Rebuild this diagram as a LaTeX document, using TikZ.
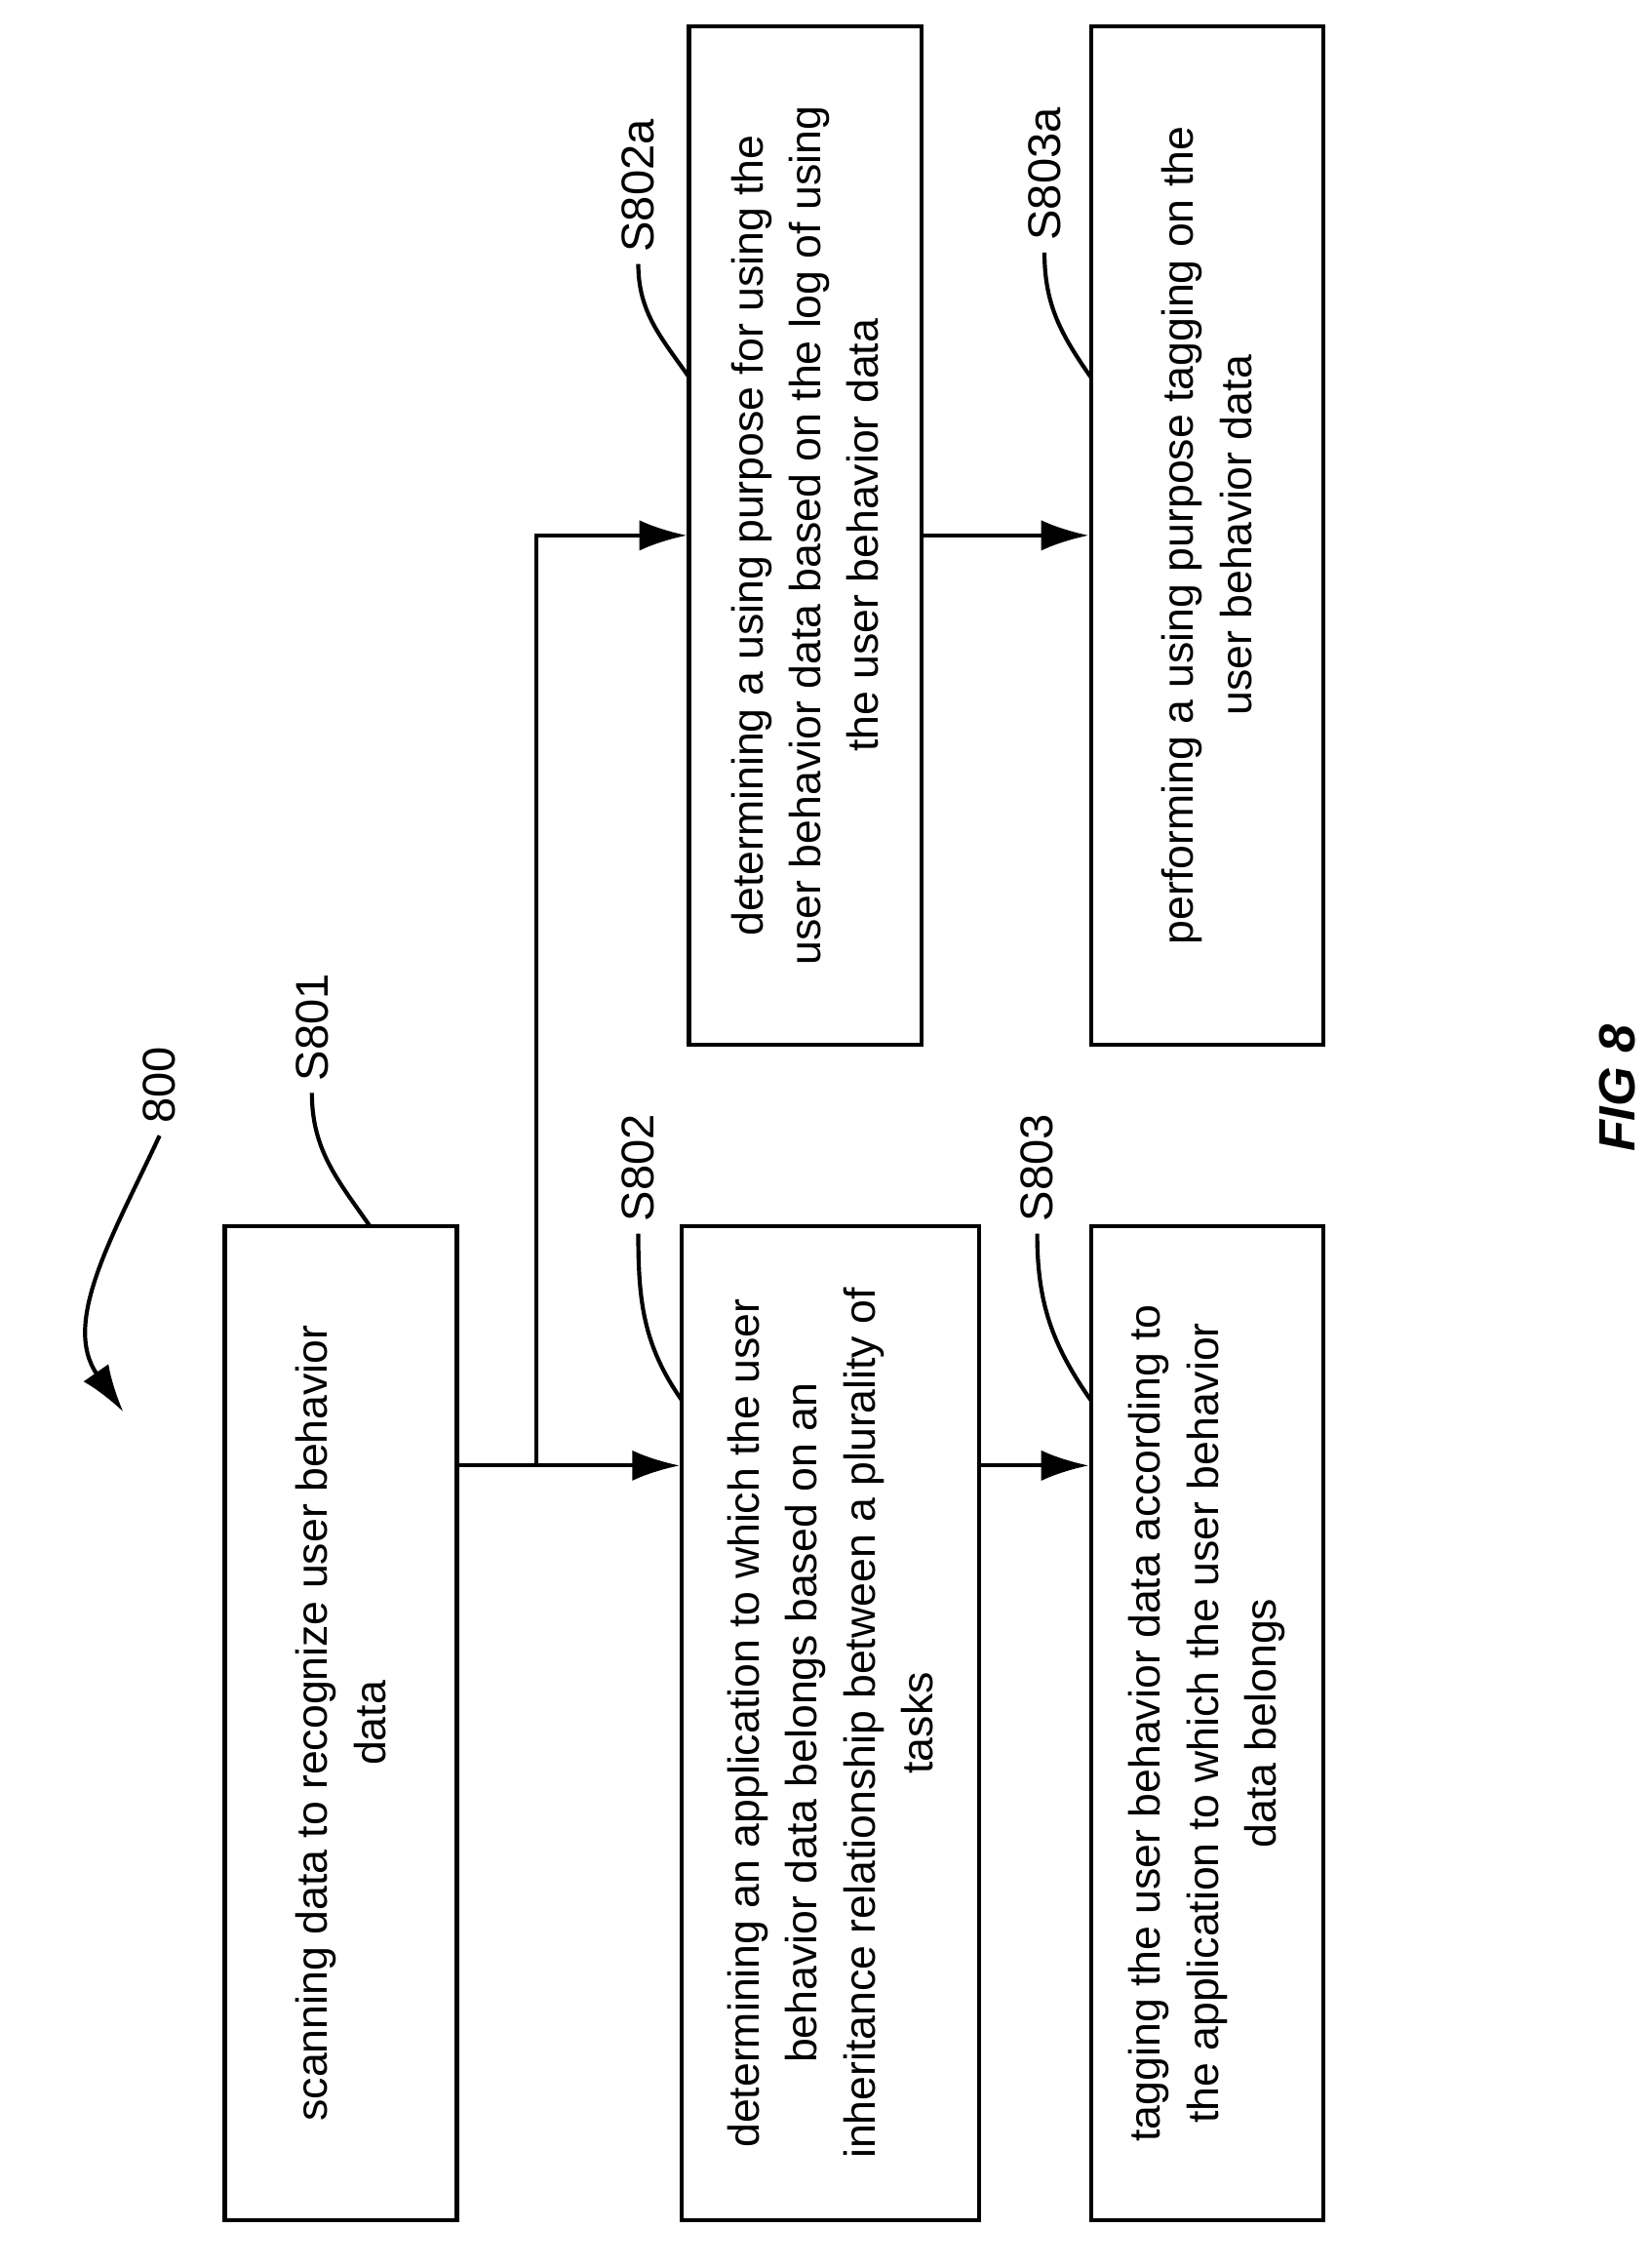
\documentclass[tikz,border=0pt]{standalone}
\usepackage{fontspec}
\setmainfont{Liberation Sans}
\usetikzlibrary{arrows.meta,positioning}
\tikzset{
  stepbox/.style={draw,line width=1.2pt,rotate=90,align=center,inner sep=4pt,
    font=\fontsize{12.8}{17}\selectfont},
  tag/.style={rotate=90,font=\fontsize{13.5}{16}\selectfont},
  flow/.style={line width=1.2pt,-{Latex[length=14pt,width=9pt]}},
  lead/.style={line width=1.2pt}
}
\begin{document}
\begin{tikzpicture}[x=0.015cm,y=0.015cm]
\useasboundingbox (0,0) rectangle (1138,1563);

\node[stepbox,minimum width=10.28cm,minimum height=2.4cm] (b801) at (235,375.5)
  {scanning data to recognize user behavior\\ data};
\node[stepbox,minimum width=10.28cm,minimum height=3.075cm] (b802) at (572.5,375.5)
  {determining an application to which the user\\ behavior data belongs based on an\\ inheritance relationship between a plurality of\\ tasks};
\node[stepbox,minimum width=10.28cm,minimum height=2.4cm] (b803) at (832,375.5)
  {tagging the user behavior data according to\\ the application to which the user behavior\\ data belongs};
\node[stepbox,minimum width=10.53cm,minimum height=2.4cm] (b802a) at (555,1194)
  {determining a using purpose for using the\\ user behavior data based on the log of using\\ the user behavior data};
\node[stepbox,minimum width=10.53cm,minimum height=2.4cm] (b803a) at (832,1194)
  {performing a using purpose tagging on the\\ user behavior data};

% connectors
\coordinate (row) at (0,553);
\coordinate (fork) at (370,553);
\draw[flow] (b801.south |- row) -- (b802.north |- row);
\draw[flow] (fork) |- (b802a.north);
\draw[flow] (b802.south |- row) -- (b803.north |- row);
\draw[flow] (b802a.south) -- (b803a.north);

% step labels
\node[tag] (t801) at (215,855) {S801};
\node[tag] (t802) at (440,758) {S802};
\node[tag] (t803) at (715,758) {S803};
\node[tag] (t802a) at (440,1435) {S802a};
\node[tag] (t803a) at (720,1443) {S803a};
\draw[lead] (t801.west) to[out=-90,in=125] (255,718);
\draw[lead] (t802.west) to[out=-90,in=125] (470,598);
\draw[lead] (t803.west) to[out=-90,in=125] (752,598);
\draw[lead] (t802a.west) to[out=-90,in=125] (475,1303);
\draw[lead] (t803a.west) to[out=-90,in=125] (752,1303);

% figure number
\node[tag] (t800) at (110,815) {800};
\draw[lead,-{Latex[length=14pt,width=9pt]}] (t800.west) to[out=-115,in=125] (85,590);
\node[rotate=90,font=\fontsize{15}{18}\selectfont\bfseries\itshape] (fig) at (1115,813) {FIG 8};
\end{tikzpicture}
\end{document}
